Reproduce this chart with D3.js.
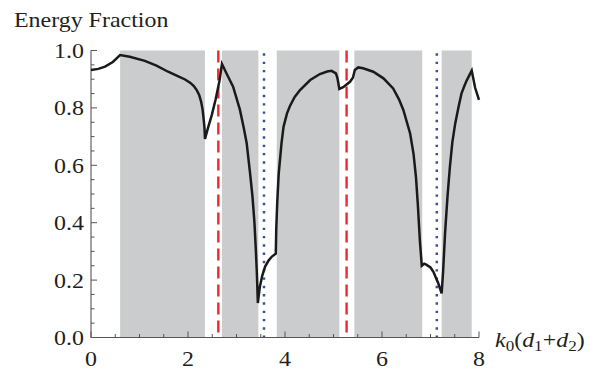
<!DOCTYPE html>
<html>
<head>
<meta charset="utf-8">
<script src="https://cdn.jsdelivr.net/npm/d3@7"></script>
<style>
  html, body { margin: 0; padding: 0; background: #fff; }
  svg { display: block; }
  text { font-family: "Liberation Serif", "DejaVu Serif", serif; fill: #231f20; }
</style>
</head>
<body>
<svg id="chart" width="600" height="370"></svg>
<script>
// Shaded bands (start, end) in k0(d1+d2)
const bandStarts = [0.60, 2.70, 3.83, 5.43, 7.23];
const bandEnds   = [2.35, 3.45, 5.12, 6.83, 7.85];

// Reference lines
const dashedLines = [2.625, 5.27];
const dottedLines = [3.567, 7.13];

// Energy fraction curve
const curveX = [0.00,0.15,0.29,0.45,0.60,0.80,1.11,1.35,1.59,1.80,1.94,2.05,2.12,2.18,2.23,2.27,2.30,2.32,2.34,2.35,
  2.42,2.49,2.57,2.65,2.70,2.80,2.93,3.07,3.15,3.21,3.28,3.33,3.37,3.40,3.42,3.44,
  3.48,3.53,3.59,3.66,3.73,3.81,3.82,3.84,3.87,3.93,3.97,4.04,4.10,4.20,4.31,4.52,4.72,4.87,4.96,
  5.05,5.08,5.10,5.12,5.20,5.34,5.40,5.44,5.51,5.61,5.82,6.03,6.23,6.35,6.44,6.58,6.65,6.70,6.74,6.78,6.82,
  6.87,6.92,7.00,7.06,7.12,7.16,7.23,7.26,7.30,7.35,7.40,7.45,7.51,7.58,7.64,7.70,7.75,7.85,7.92,8.00];
const curveY = [0.932,0.936,0.944,0.960,0.984,0.978,0.964,0.947,0.926,0.910,0.899,0.887,0.876,0.862,0.845,0.822,0.795,0.765,0.730,0.692,
  0.735,0.775,0.830,0.895,0.953,0.918,0.874,0.794,0.730,0.677,0.572,0.490,0.400,0.300,0.224,0.120,
  0.175,0.215,0.247,0.268,0.282,0.292,0.380,0.470,0.570,0.680,0.734,0.780,0.806,0.838,0.862,0.897,0.918,0.927,0.929,
  0.920,0.905,0.886,0.866,0.872,0.891,0.905,0.932,0.941,0.938,0.926,0.903,0.868,0.830,0.793,0.711,0.640,0.560,0.460,0.340,0.250,
  0.257,0.253,0.244,0.229,0.205,0.189,0.154,0.230,0.363,0.490,0.595,0.680,0.746,0.805,0.851,0.877,0.897,0.930,0.870,0.828];

// Axis ticks
const xMajorTicks = [0, 2, 4, 6, 8];
const xMinorTicks = [0.5, 1, 1.5, 2.5, 3, 3.5, 4.5, 5, 5.5, 6.5, 7, 7.5];
const yMajorTicks = [0, 0.2, 0.4, 0.6, 0.8, 1.0];
const yMinorTicks = [0.05,0.1,0.15,0.25,0.3,0.35,0.45,0.5,0.55,0.65,0.7,0.75,0.85,0.9,0.95];

const svg = d3.select("#chart");
const x = d3.scaleLinear().domain([0, 8]).range([91, 479]);
const y = d3.scaleLinear().domain([0, 1]).range([337.5, 50.5]);

// the lettering is set slightly wide
const widen = "scale(1.14,1)";
const fs = 21;

// bands
svg.append("g").selectAll("rect")
  .data(bandStarts.map((s, i) => [s, bandEnds[i]]))
  .join("rect")
  .attr("x", d => x(d[0]))
  .attr("width", d => x(d[1]) - x(d[0]))
  .attr("y", y(1))
  .attr("height", y(0) - y(1))
  .attr("fill", "#cbcccd");

// dashed red lines
svg.append("g").selectAll("line")
  .data(dashedLines).join("line")
  .attr("x1", d => x(d)).attr("x2", d => x(d))
  .attr("y1", y(1)).attr("y2", y(0))
  .attr("stroke", "#ec2a30").attr("stroke-width", 2.4)
  .attr("stroke-dasharray", "12 6");

// dotted blue lines
svg.append("g").selectAll("line")
  .data(dottedLines).join("line")
  .attr("x1", d => x(d)).attr("x2", d => x(d))
  .attr("y1", y(0.99)).attr("y2", y(0))
  .attr("stroke", "#3a4ea3").attr("stroke-width", 2.5)
  .attr("stroke-dasharray", "2.4 5.9");

// axes: inward ticks
const axisColor = "#555";
const axes = svg.append("g");
axes.append("line").attr("x1", x(0)).attr("x2", x(8)).attr("y1", y(0)).attr("y2", y(0))
  .attr("stroke", axisColor).attr("stroke-width", 1.1);
axes.append("line").attr("x1", x(0)).attr("x2", x(0)).attr("y1", y(0)).attr("y2", y(1))
  .attr("stroke", axisColor).attr("stroke-width", 1.1);

axes.selectAll(".xmaj").data(xMajorTicks).join("line")
  .attr("class", "xmaj")
  .attr("x1", d => x(d)).attr("x2", d => x(d)).attr("y1", y(0)).attr("y2", y(0) - 6)
  .attr("stroke", axisColor);
axes.selectAll(".xmin").data(xMinorTicks).join("line")
  .attr("class", "xmin")
  .attr("x1", d => x(d)).attr("x2", d => x(d)).attr("y1", y(0)).attr("y2", y(0) - 3.5)
  .attr("stroke", axisColor);
axes.selectAll(".ymaj").data(yMajorTicks).join("line")
  .attr("class", "ymaj")
  .attr("x1", x(0)).attr("x2", x(0) + 6).attr("y1", d => y(d)).attr("y2", d => y(d))
  .attr("stroke", axisColor);
axes.selectAll(".ymin").data(yMinorTicks).join("line")
  .attr("class", "ymin")
  .attr("x1", x(0)).attr("x2", x(0) + 3.5).attr("y1", d => y(d)).attr("y2", d => y(d))
  .attr("stroke", axisColor);

axes.selectAll(".xlab").data(xMajorTicks).join("text")
  .attr("class", "xlab")
  .attr("transform", d => `translate(${x(d)},366) ${widen}`)
  .attr("text-anchor", "middle").attr("font-size", fs)
  .text(d => d3.format("d")(d));
axes.selectAll(".ylab").data(yMajorTicks).join("text")
  .attr("class", "ylab")
  .attr("transform", d => `translate(84,${y(d) + 7.5}) ${widen}`)
  .attr("text-anchor", "end").attr("font-size", fs)
  .text(d => d3.format(".1f")(d));

// curve
const pts = curveX.map((v, i) => [v, curveY[i]]);
svg.append("path")
  .datum(pts)
  .attr("fill", "none")
  .attr("stroke", "#1a1a1a")
  .attr("stroke-width", 2.5)
  .attr("stroke-linejoin", "miter")
  .attr("d", d3.line().x(d => x(d[0])).y(d => y(d[1])));

// titles
svg.append("text").attr("transform", `translate(14,27) ${widen}`)
  .attr("font-size", fs).text("Energy Fraction");

const xl = svg.append("text").attr("transform", `translate(495,347) ${widen}`).attr("font-size", fs);
xl.append("tspan").attr("font-style", "italic").text("k");
xl.append("tspan").attr("font-size", 15).attr("dy", 4).text("0");
xl.append("tspan").attr("dy", -4).text("(");
xl.append("tspan").attr("font-style", "italic").text("d");
xl.append("tspan").attr("font-size", 15).attr("dy", 4).text("1");
xl.append("tspan").attr("dy", -4).text("+");
xl.append("tspan").attr("font-style", "italic").text("d");
xl.append("tspan").attr("font-size", 15).attr("dy", 4).text("2");
xl.append("tspan").attr("dy", -4).text(")");
</script>
</body>
</html>
